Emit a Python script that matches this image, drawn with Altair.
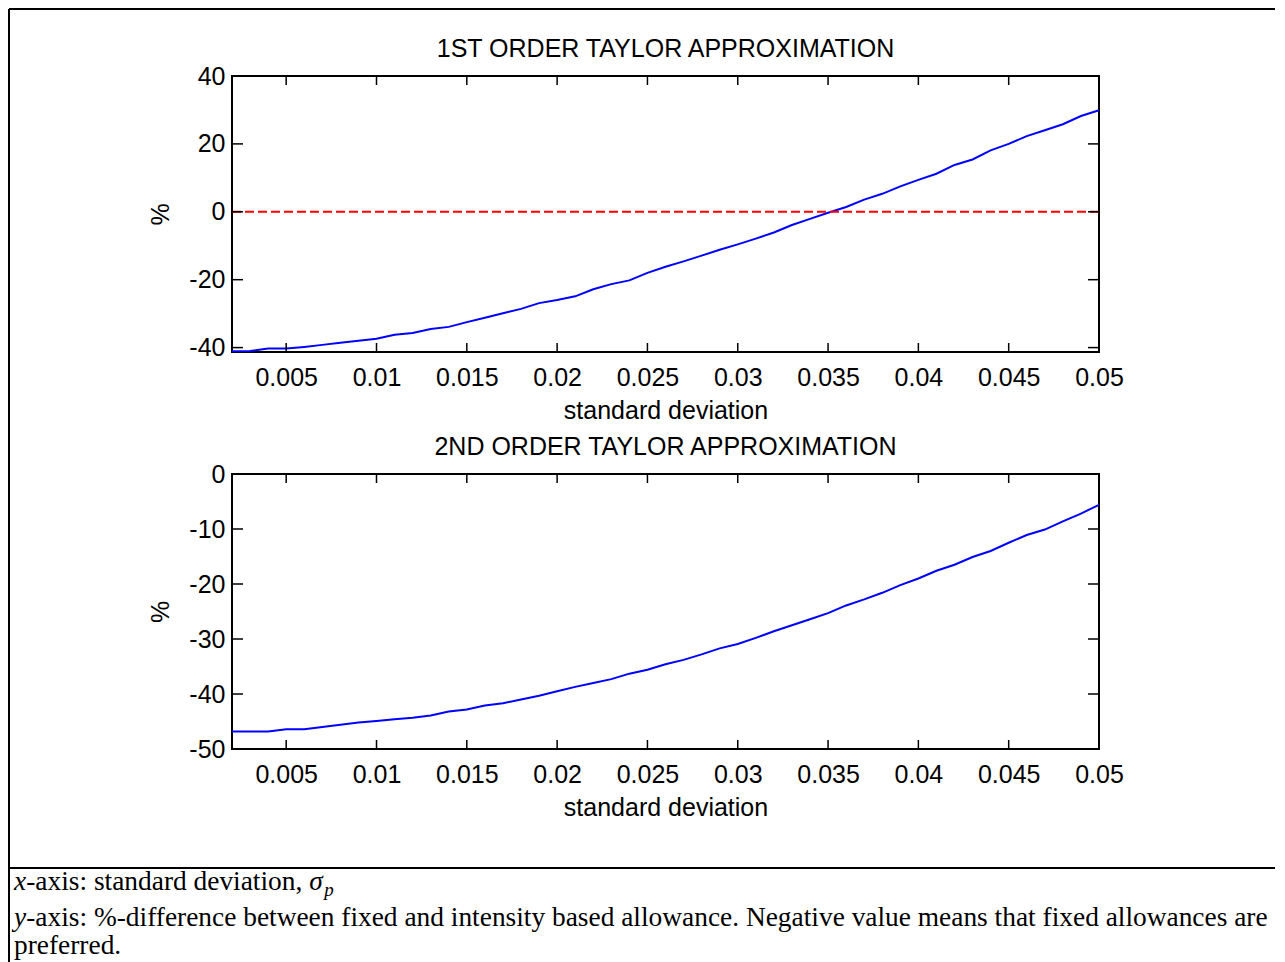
import altair as alt
import pandas as pd

# ---------------- data ----------------
SIGMA = [0.002, 0.003, 0.004, 0.005, 0.006, 0.007, 0.008, 0.009, 0.010,
         0.011, 0.012, 0.013, 0.014, 0.015, 0.016, 0.017, 0.018, 0.019, 0.020,
         0.021, 0.022, 0.023, 0.024, 0.025, 0.026, 0.027, 0.028, 0.029, 0.030,
         0.031, 0.032, 0.033, 0.034, 0.035, 0.036, 0.037, 0.038, 0.039, 0.040,
         0.041, 0.042, 0.043, 0.044, 0.045, 0.046, 0.047, 0.048, 0.049, 0.050]

FIRST_ORDER = [-41.1, -41.0, -40.3, -40.3, -39.8, -39.2, -38.6, -38.0, -37.4,
               -36.2, -35.7, -34.5, -33.9, -32.5, -31.2, -29.9, -28.6, -26.9, -26.0,
               -24.9, -22.8, -21.3, -20.2, -18.0, -16.2, -14.6, -12.9, -11.2, -9.6,
               -7.9, -6.1, -3.9, -2.1, -0.3, 1.4, 3.6, 5.3, 7.5, 9.4,
               11.2, 13.8, 15.4, 18.1, 20.0, 22.3, 24.0, 25.8, 28.2, 29.9]

SECOND_ORDER = [-46.8, -46.8, -46.8, -46.4, -46.4, -46.0, -45.6, -45.2, -44.9,
                -44.6, -44.3, -43.9, -43.2, -42.8, -42.1, -41.7, -41.0, -40.3, -39.5,
                -38.7, -38.0, -37.3, -36.3, -35.6, -34.6, -33.8, -32.8, -31.7, -30.9,
                -29.8, -28.6, -27.5, -26.4, -25.3, -23.9, -22.8, -21.6, -20.2, -19.0,
                -17.6, -16.5, -15.1, -14.0, -12.5, -11.1, -10.1, -8.6, -7.2, -5.6]

ZERO_X = [0.002, 0.050]
ZERO_Y = [0, 0]

X_TICKS = [0.005, 0.01, 0.015, 0.02, 0.025, 0.03, 0.035, 0.04, 0.045, 0.05]
Y1_TICKS = [-40, -20, 0, 20, 40]
Y2_TICKS = [-50, -40, -30, -20, -10, 0]
X_DOMAIN = [0.002, 0.05]
Y1_DOMAIN = [-41.3, 40]
Y2_DOMAIN = [-50, 0]

TITLES = ["1ST ORDER TAYLOR APPROXIMATION", "2ND ORDER TAYLOR APPROXIMATION"]
X_TITLE = "standard deviation"
Y_TITLE = "%"

CAP1 = ["x", "-axis: standard deviation, ", "\u03c3", "p"]
CAP2 = ["y", "-axis: %-difference between fixed and intensity based allowance. "
        "Negative value means that fixed allowances are"]
CAP3 = "preferred."

# ---------------- styling ----------------
W = 867
H1 = 276
H2 = 275
GAP = 122
FONT = "Liberation Sans"
FS = 25
SERIF = "Liberation Serif"
CFS = 27.4
HYPHEN = "replace(datum.label, '\u2212', '-')"
one = alt.Data(values=[{}])


def panel(values, yticks, ydomain, title, height, zero):
    xs = alt.Scale(domain=X_DOMAIN, nice=False, zero=False)
    ys = alt.Scale(domain=ydomain, nice=False, zero=False)
    xax = alt.Axis(values=X_TICKS, format=".3~f", labelExpr=HYPHEN, ticks=False,
                   tickSize=0, domain=False, grid=False, labelFont=FONT,
                   labelFontSize=FS, labelColor="black", labelPadding=13,
                   labelFlush=False, labelOverlap=False, title=X_TITLE,
                   titleFont=FONT, titleFontSize=FS, titleFontWeight="normal",
                   titleColor="black", titlePadding=8)
    yax = alt.Axis(values=yticks, labelExpr=HYPHEN, ticks=False, tickSize=0,
                   domain=False, grid=False, labelFont=FONT, labelFontSize=FS,
                   labelColor="black", labelPadding=7, labelFlush=False,
                   labelOverlap=False, title=Y_TITLE, titleFont=FONT,
                   titleFontSize=FS, titleFontWeight="normal", titleColor="black",
                   titlePadding=15)

    def X():
        return alt.X("sigma:Q", scale=xs, axis=xax)

    def Y():
        return alt.Y("pct:Q", scale=ys, axis=yax)

    df = pd.DataFrame({"sigma": SIGMA, "pct": values})
    line = alt.Chart(df).mark_line(color="#0000ff", strokeWidth=2).encode(x=X(), y=Y())
    layers = [line]
    if zero:
        zdf = pd.DataFrame({"sigma": ZERO_X, "pct": ZERO_Y})
        layers.append(alt.Chart(zdf).mark_line(color="#ff0000", strokeWidth=2,
                                               strokeDash=[9, 4]).encode(x=X(), y=Y()))
    xt = pd.DataFrame({"sigma": X_TICKS})
    yt = pd.DataFrame({"pct": yticks})
    tk = dict(color="black", strokeWidth=1.5)
    layers.append(alt.Chart(xt).mark_rule(**tk).encode(
        x=X(), y=alt.value(height), y2=alt.value(height - 9)))
    layers.append(alt.Chart(xt).mark_rule(**tk).encode(
        x=X(), y=alt.value(0), y2=alt.value(9)))
    layers.append(alt.Chart(yt).mark_rule(**tk).encode(
        y=Y(), x=alt.value(0), x2=alt.value(11)))
    layers.append(alt.Chart(yt).mark_rule(**tk).encode(
        y=Y(), x=alt.value(W), x2=alt.value(W - 11)))
    layers.append(alt.Chart(one).mark_text(
        font=FONT, fontSize=FS, align="center", baseline="alphabetic",
        color="black").encode(x=alt.value(W / 2), y=alt.value(-19),
                              text=alt.value(title)))
    return alt.layer(*layers).properties(
        width=W, height=height,
        view=alt.ViewBackground(stroke="black", strokeWidth=2),
    )


top = panel(FIRST_ORDER, Y1_TICKS, Y1_DOMAIN, TITLES[0], H1, True)
bottom = panel(SECOND_ORDER, Y2_TICKS, Y2_DOMAIN, TITLES[1], H2, False)

# ---------------- caption & frame (relative to caption panel origin) ----------------
LEFT = -223
RIGHT = 1043
TOPY = -862
BOTY = 95
SEP = -3
TX = -218

frame_l = alt.Chart(one).mark_rule(color="black", strokeWidth=2).encode(
    x=alt.value(LEFT), y=alt.value(TOPY), y2=alt.value(BOTY))
frame_t = alt.Chart(one).mark_rule(color="black", strokeWidth=2).encode(
    x=alt.value(LEFT), x2=alt.value(RIGHT), y=alt.value(TOPY))
frame_s = alt.Chart(one).mark_rule(color="black", strokeWidth=2).encode(
    x=alt.value(LEFT), x2=alt.value(RIGHT), y=alt.value(SEP))


def txt(s, x, y, italic=False, size=CFS):
    kw = dict(font=SERIF, fontSize=size, align="left", baseline="alphabetic",
              color="black")
    if italic:
        kw["fontStyle"] = "italic"
    return alt.Chart(one).mark_text(**kw).encode(
        x=alt.value(x), y=alt.value(y), text=alt.value(s))


XI = round(0.444 * CFS, 1)
SIG = XI + round(10.33 * CFS, 1)
caption = alt.layer(
    frame_l, frame_t, frame_s,
    txt(CAP1[0], TX, 19, italic=True),
    txt(CAP1[1], TX + XI, 19),
    txt(CAP1[2], TX + SIG, 19, italic=True),
    txt(CAP1[3], TX + SIG + 15, 25, italic=True, size=19),
    txt(CAP2[0], TX, 55, italic=True),
    txt(CAP2[1], TX + XI, 55),
    txt(CAP3, TX, 83),
).properties(width=W, height=80,
             view=alt.ViewBackground(strokeOpacity=0, fillOpacity=0))

chart = alt.vconcat(top, bottom, caption, spacing=GAP, bounds="flush").properties(
    padding={"left": 0, "top": 0, "right": 0, "bottom": 0},
    background="white",
)

chart.save("out.html", embed_options={"renderer": "svg", "actions": False})
